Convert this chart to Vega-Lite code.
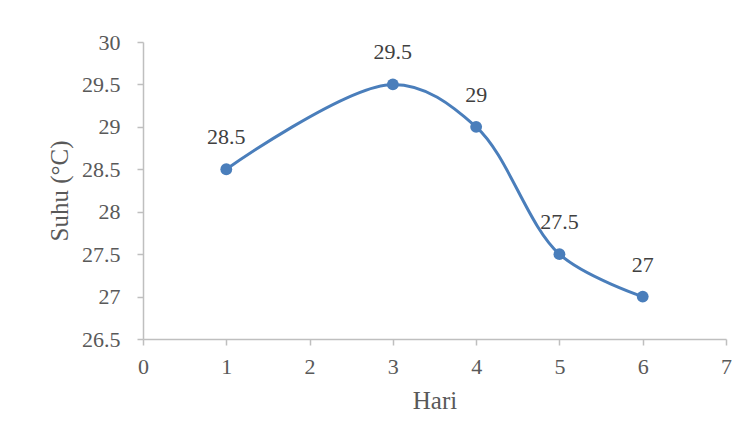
{
  "$schema": "https://vega.github.io/schema/vega-lite/v6.json",
  "autosize": "none",
  "width": 583,
  "height": 297,
  "padding": {"left": 143, "top": 42, "right": 23, "bottom": 107},
  "background": "white",
  "config": {
    "view": {"stroke": null},
    "font": "Liberation Serif",
    "axis": {
      "grid": false,
      "labelFlush": false,
      "labelOverlap": false,
      "domainColor": "#BFBFBF",
      "domainWidth": 1.5,
      "tickColor": "#BFBFBF",
      "tickWidth": 1.5,
      "tickSize": 6,
      "labelFont": "Liberation Serif",
      "labelFontSize": 22,
      "labelColor": "#595959",
      "titleFont": "Liberation Serif",
      "titleFontSize": 25,
      "titleFontWeight": "normal",
      "titleColor": "#595959"
    }
  },
  "data": {
    "values": [
      {"hari": 1, "suhu": 28.5},
      {"hari": 3, "suhu": 29.5},
      {"hari": 4, "suhu": 29},
      {"hari": 5, "suhu": 27.5},
      {"hari": 6, "suhu": 27}
    ]
  },
  "encoding": {
    "x": {
      "field": "hari", "type": "quantitative", "title": "Hari",
      "scale": {"domain": [0, 7], "nice": false, "zero": false},
      "axis": {"values": [0, 1, 2, 3, 4, 5, 6, 7], "labelPadding": 11, "titlePadding": 11}
    },
    "y": {
      "field": "suhu", "type": "quantitative", "title": "Suhu (°C)",
      "scale": {"domain": [26.5, 30], "nice": false, "zero": false},
      "axis": {"values": [26.5, 27, 27.5, 28, 28.5, 29, 29.5, 30], "labelPadding": 17, "titlePadding": 9, "format": "~g"}
    }
  },
  "layer": [
    {"mark": {"type": "line", "interpolate": "catmull-rom", "color": "#4A7EBB", "strokeWidth": 3}},
    {"mark": {"type": "point", "filled": true, "opacity": 1, "color": "#4A7EBB", "size": 140}},
    {"mark": {"type": "text", "dy": -32, "fontSize": 22, "color": "#404040", "font": "Liberation Serif"},
     "encoding": {"text": {"field": "suhu", "type": "quantitative", "format": "~g"}}}
  ]
}
